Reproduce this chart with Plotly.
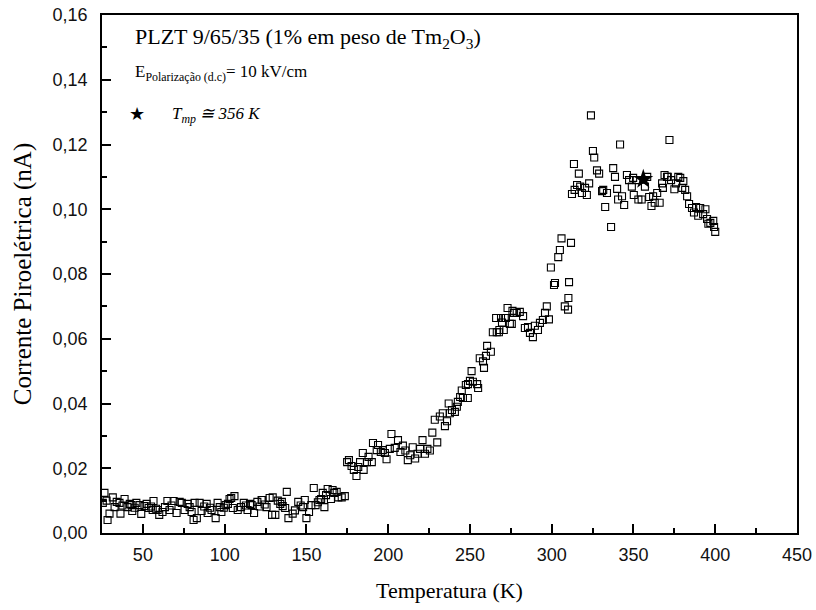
import plotly.graph_objects as go

temperatura = [25.5, 26.5, 27.8, 28.4, 29.6, 31.6, 32.7, 34.0, 35.7, 36.3, 37.5, 38.8, 40.6, 42.0, 43.0, 43.5, 45.0, 46.0, 48.0,
               49.0, 51.0, 52.3, 53.5, 55.0, 56.0, 56.5, 58.0, 59.0, 60.0, 62.0, 63.5, 65.0, 66.3, 67.5, 68.8, 70.6, 72.5,
               73.8, 75.5, 77.4, 78.6, 79.8, 81.0, 81.6, 83.0, 84.7, 85.9, 87.5, 89.0, 89.6, 91.0, 92.0, 94.5, 95.7, 97.0,
               98.0, 99.5, 100.6, 102.0, 103.0, 104.0, 105.0, 106.0, 108.0, 110.0, 111.7, 113.0, 114.0, 115.5, 116.5, 118.0,
               120.0, 121.5, 122.6, 123.0, 124.5, 125.6, 127.5, 129.0, 129.4, 131.0, 132.5, 134.0, 135.0, 135.5, 137.0,
               138.0, 139.0, 141.6, 143.0, 145.0, 146.5, 148.0, 149.0, 150.0, 151.6, 153.0, 154.5, 155.6, 157.0, 158.0,
               159.0, 160.0, 161.0, 162.0, 163.0, 165.0, 166.0, 167.0, 168.5, 169.5, 171.6, 173.5, 174.9, 176.0, 177.6,
               179.0, 180.6, 181.7, 182.8, 184.5, 185.0, 187.0, 188.0, 190.0, 190.7, 193.0, 193.8, 195.5, 196.7, 198.0,
               199.0, 201.0, 202.0, 204.0, 206.0, 207.5, 209.0, 210.5, 212.0, 213.5, 215.0, 216.5, 218.0, 219.5, 221.0,
               222.5, 224.0, 225.5, 227.0, 228.5, 230.0, 231.6, 233.4, 234.7, 236.0, 237.0, 237.7, 239.0, 240.8, 242.0,
               242.6, 244.0, 245.0, 245.7, 247.5, 248.7, 248.8, 250.0, 251.0, 251.8, 254.4, 255.0, 256.0, 258.0, 258.6,
               259.8, 260.5, 262.8, 264.0, 266.0, 266.4, 267.7, 268.0, 269.0, 269.6, 270.7, 271.3, 272.0, 273.0, 274.4,
               275.6, 276.0, 277.0, 278.6, 280.5, 282.5, 283.6, 285.5, 286.7, 288.5, 289.7, 291.6, 292.8, 294.6, 295.9,
               297.0, 298.3, 299.5, 301.4, 302.0, 304.0, 305.0, 306.0, 308.0, 310.0, 310.2, 310.6, 311.8, 312.4, 313.6,
               314.0, 315.5, 316.6, 317.4, 318.5, 320.4, 321.5, 322.9, 324.0, 325.2, 326.0, 327.7, 329.0, 330.8, 331.5,
               332.7, 333.8, 336.3, 337.6, 338.7, 340.0, 340.6, 341.8, 343.0, 344.3, 346.0, 347.3, 349.0, 349.8, 350.2,
               352.0, 353.0, 355.0, 357.0, 358.4, 359.6, 361.0, 362.0, 363.0, 364.5, 366.0, 367.5, 368.0, 369.0, 370.5,
               371.0, 372.0, 373.0, 375.0, 376.0, 377.4, 378.6, 379.8, 380.5, 381.6, 382.8, 384.0, 385.8, 387.0, 388.3,
               389.6, 390.8, 392.6, 394.0, 395.0, 395.8, 397.0, 398.8, 399.3, 400.0]

corrente = [0.0093, 0.0124, 0.0100, 0.0040, 0.0060, 0.0110, 0.0080, 0.0096, 0.0093, 0.0060, 0.0085, 0.0105, 0.0080, 0.0090,
            0.0086, 0.0068, 0.0078, 0.0093, 0.0086, 0.0059, 0.0083, 0.0090, 0.0077, 0.0082, 0.0071, 0.0099, 0.0075, 0.0071,
            0.0056, 0.0065, 0.0080, 0.0099, 0.0071, 0.0085, 0.0099, 0.0062, 0.0096, 0.0093, 0.0071, 0.0090, 0.0080, 0.0065,
            0.0040, 0.0093, 0.0046, 0.0093, 0.0068, 0.0082, 0.0090, 0.0062, 0.0078, 0.0071, 0.0046, 0.0093, 0.0080, 0.0065,
            0.0078, 0.0086, 0.0090, 0.0105, 0.0108, 0.0077, 0.0114, 0.0071, 0.0080, 0.0093, 0.0085, 0.0071, 0.0090, 0.0086,
            0.0062, 0.0096, 0.0082, 0.0102, 0.0102, 0.0088, 0.0080, 0.0108, 0.0056, 0.0110, 0.0056, 0.0100, 0.0090, 0.0096,
            0.0083, 0.0077, 0.0127, 0.0046, 0.0060, 0.0070, 0.0096, 0.0085, 0.0080, 0.0102, 0.0046, 0.0065, 0.0086, 0.0139,
            0.0086, 0.0095, 0.0102, 0.0105, 0.0124, 0.0080, 0.0117, 0.0136, 0.0105, 0.0133, 0.0124, 0.0127, 0.0110, 0.0110,
            0.0114, 0.0219, 0.0225, 0.0207, 0.0195, 0.0176, 0.0204, 0.0219, 0.0247, 0.0195, 0.0219, 0.0235, 0.0219, 0.0278,
            0.0256, 0.0272, 0.0250, 0.0256, 0.0247, 0.0228, 0.0260, 0.0306, 0.0263, 0.0287, 0.0250, 0.0270, 0.0255, 0.0225,
            0.0240, 0.0265, 0.0230, 0.0245, 0.0260, 0.0287, 0.0245, 0.0260, 0.0255, 0.0310, 0.0350, 0.0280, 0.0360, 0.0370,
            0.0330, 0.0345, 0.0400, 0.0370, 0.0380, 0.0374, 0.0390, 0.0405, 0.0420, 0.0440, 0.0417, 0.0457, 0.0417, 0.0460,
            0.0470, 0.0500, 0.0467, 0.0460, 0.0448, 0.0540, 0.0530, 0.0510, 0.0547, 0.0578, 0.0560, 0.0620, 0.0664, 0.0620,
            0.0620, 0.0627, 0.0664, 0.0650, 0.0627, 0.0664, 0.0664, 0.0695, 0.0646, 0.0646, 0.0686, 0.0680, 0.0680, 0.0683,
            0.0670, 0.0633, 0.0636, 0.0618, 0.0605, 0.0640, 0.0627, 0.0649, 0.0658, 0.0680, 0.0700, 0.0660, 0.0820, 0.0766,
            0.0772, 0.0852, 0.0874, 0.0910, 0.0700, 0.0690, 0.0726, 0.0775, 0.0896, 0.1047, 0.1140, 0.1060, 0.1075, 0.1110,
            0.1070, 0.1050, 0.1066, 0.1044, 0.1080, 0.1290, 0.1180, 0.1160, 0.1120, 0.1110, 0.1056, 0.1060, 0.1007, 0.1050,
            0.0945, 0.1127, 0.1100, 0.1063, 0.1030, 0.1200, 0.1040, 0.1013, 0.1106, 0.1090, 0.1070, 0.1097, 0.1044, 0.1090,
            0.1030, 0.1030, 0.1070, 0.1100, 0.1038, 0.1010, 0.1040, 0.1020, 0.1050, 0.1020, 0.1080, 0.1066, 0.1106, 0.1100,
            0.1100, 0.1214, 0.1090, 0.1062, 0.1080, 0.1100, 0.1097, 0.1066, 0.1087, 0.1060, 0.1040, 0.1016, 0.1004, 0.0990,
            0.1007, 0.0980, 0.1004, 0.0985, 0.1000, 0.0970, 0.0955, 0.0958, 0.0964, 0.0945, 0.0930]

tmp_x = [356.0]
tmp_y = [0.1093]

x_ticks = [50, 100, 150, 200, 250, 300, 350, 400, 450]
y_ticks = [0.00, 0.02, 0.04, 0.06, 0.08, 0.10, 0.12, 0.14, 0.16]

fig = go.Figure()
fig.add_trace(go.Scatter(
    x=temperatura, y=corrente, mode="markers",
    marker=dict(symbol="square-open", size=7, color="black", line=dict(width=1.1, color="black")),
    showlegend=False, hoverinfo="skip"))
fig.add_trace(go.Scatter(
    x=tmp_x, y=tmp_y, mode="markers",
    marker=dict(symbol="star", size=15, color="black", line=dict(width=0)),
    showlegend=False))

axis_common = dict(
    showline=True, linecolor="black", linewidth=1.5, mirror=True,
    ticks="inside", tickcolor="black", tickwidth=1.5, ticklen=9,
    showgrid=False, zeroline=False, automargin=False,
    tickfont=dict(family="Liberation Sans, Arial", size=18, color="#111"),
)

fig.update_layout(
    width=816, height=610,
    margin=dict(l=102, r=19, t=15, b=77),
    paper_bgcolor="white", plot_bgcolor="white",
    separators=",.",
    xaxis=dict(range=[25, 450], tickvals=x_ticks,
               minor=dict(ticks="inside", ticklen=5, tickwidth=1.5, tickcolor="black", dtick=25, tick0=25),
               ticklabelstandoff=5,
               title=dict(text="Temperatura (K)", font=dict(family="Liberation Serif, Times New Roman", size=22, color="black"), standoff=18),
               **axis_common),
    yaxis=dict(range=[0, 0.16], tickvals=y_ticks, tickformat=".2f",
               minor=dict(ticks="inside", ticklen=5, tickwidth=1.5, tickcolor="black", dtick=0.01, tick0=0),
               ticklabelstandoff=9,
               title=dict(text="Corrente Piroelétrica (nA)", font=dict(family="Liberation Serif, Times New Roman", size=25, color="black"), standoff=14),
               **axis_common),
)

serif = dict(family="Liberation Serif, Times New Roman", color="black")
fig.add_annotation(xref="paper", yref="paper", x=0.0446, y=0.955, xanchor="left", yanchor="middle",
                   text="PLZT 9/65/35 (1% em peso de Tm<sub>2</sub>O<sub>3</sub>)", showarrow=False,
                   font=dict(size=22, **serif))
fig.add_annotation(xref="paper", yref="paper", x=0.0446, y=0.888, xanchor="left", yanchor="middle",
                   text="E<sub>Polarização (d.c)</sub>= 10 kV/cm", showarrow=False,
                   font=dict(size=17, **serif))
fig.add_annotation(xref="paper", yref="paper", x=0.051, y=0.81, xanchor="center", yanchor="middle",
                   text="★", showarrow=False, font=dict(size=18, family="DejaVu Sans", color="black"))
fig.add_annotation(xref="paper", yref="paper", x=0.098, y=0.807, xanchor="left", yanchor="middle",
                   text="<i>T<sub>mp</sub> ≅ 356 K</i>", showarrow=False,
                   font=dict(size=17, **serif))

fig.write_html("out.html")
